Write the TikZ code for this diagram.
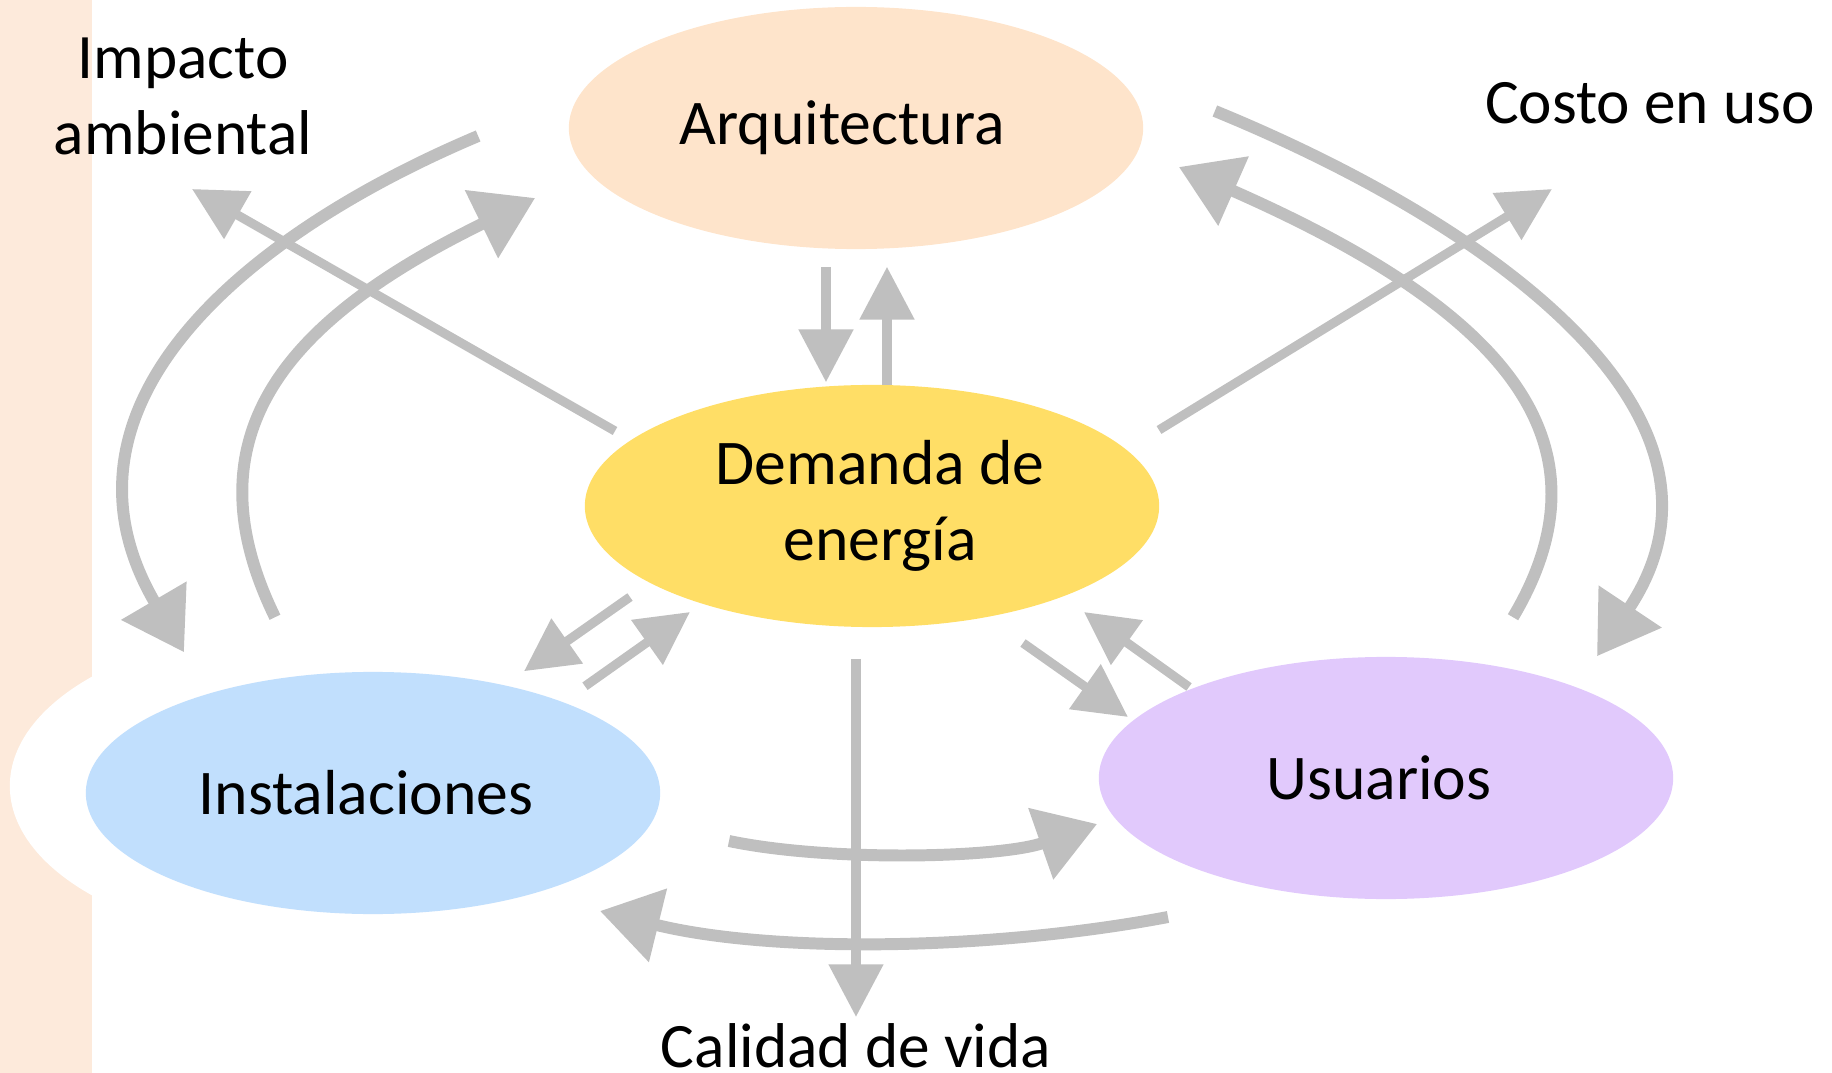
\documentclass[tikz,border=0pt]{standalone}
\usepackage{fontspec}
\setmainfont{Carlito}
\usepackage{xcolor}
\usepackage{tikz}
\usetikzlibrary{shapes.geometric, arrows.meta, calc}

\definecolor{arqfill}{RGB}{254,228,203}
\definecolor{demfill}{RGB}{255,222,102}
\definecolor{instfill}{RGB}{193,223,253}
\definecolor{usufill}{RGB}{225,201,252}
\definecolor{stripfill}{RGB}{253,234,219}
\definecolor{flowgray}{RGB}{191,191,191}

\begin{document}
\begin{tikzpicture}[x=0.01cm, y=-0.01cm]
\tikzstyle{bubble} = [ellipse, minimum width=5.74cm, minimum height=2.42cm, inner sep=0pt, align=center, font=\fontsize{18.1}{21.6}\selectfont]
\tikzstyle{caption} = [align=center, inner sep=0pt, font=\fontsize{18}{21.6}\selectfont]
\tikzstyle{flow} = [draw=flowgray, line width=2.6pt, -{Triangle[length=15pt,width=15pt]}]
\tikzstyle{loop} = [draw=flowgray, line width=3.4pt, -{Triangle[length=17pt,width=20.7pt]}]

\useasboundingbox (0,0) rectangle (1832,1073);
\fill[stripfill] (0,0) rectangle (92,1073);
\fill[white] (310,786) ellipse [x radius=3cm, y radius=1.59cm];

\node (arq) [bubble, fill=arqfill] at (856,128) {Arquitectura\kern0.28cm};
\node (dem) [bubble, fill=demfill] at (872,506) {\kern0.16cm Demanda de\\\kern0.16cm energía};
\node (inst) [bubble, fill=instfill] at (373,793) {Instalaciones\kern0.14cm};
\node (usu) [bubble, fill=usufill] at (1386,778) {Usuarios\kern0.14cm};
\node (impacto) [caption] at (183,96) {Impacto\\ambiental};
\node (costo) [caption] at (1650,103) {Costo en uso};
\node (calidad) [caption, anchor=base] at (856,1067) {Calidad de vida};

% between the ellipses
\draw [flow] ($(arq.south)+(-30,17)$) -- ($(dem.north)+(-46,-2)$);
\draw [flow] ($(dem.north)+(15,1)$) -- ($(arq.south)+(31,17)$);
\draw [flow] ($(dem)+(-242,91)$) -- ($(inst.north)+(151,0)$);
\draw [flow] ($(inst.north)+(212,15)$) -- ($(dem)+(-182,106)$);
\draw [flow] ($(dem)+(151,137)$) -- ($(usu)+(-258,-61)$);
\draw [flow] ($(usu)+(-197,-91)$) -- ($(dem)+(212,106)$);

% outcomes
\draw [flow] ($(dem)+(-257,-75)$) -- ($(impacto)+(9,93)$);
\draw [flow] ($(dem)+(287,-76)$) -- ($(costo)+(-98,86)$);
\draw [flow] ($(dem.south)+(-16,31)$) -- ($(calidad.base)+(0,-50)$);

% loops
\draw [loop] ($(arq.west)+(-90,8)$) .. controls +(-239,101) and +(-143,-244) .. ($(inst.north)+(-189,-19)$);
\draw [loop] ($(inst.north)+(-98,-54)$) .. controls +(-88,-180) and +(-252,123) .. ($(arq.west)+(-33,70)$);
\draw [loop] ($(arq.east)+(71,-17)$) .. controls +(266,109) and +(163,-244) .. ($(usu.north)+(211,0)$);
\draw [loop] ($(usu.north)+(127,-39)$) .. controls +(112,-188) and +(302,133) .. ($(arq.east)+(35,39)$);
\draw [loop] ($(inst)+(356,48)$) .. controls +(100,21) and +(-97,34) .. ($(usu.west)+(-1,46)$);
\draw [loop] ($(usu)+(-218,139)$) .. controls +(-180,34) and +(170,42) .. ($(inst)+(227,118)$);

\end{tikzpicture}
\end{document}
